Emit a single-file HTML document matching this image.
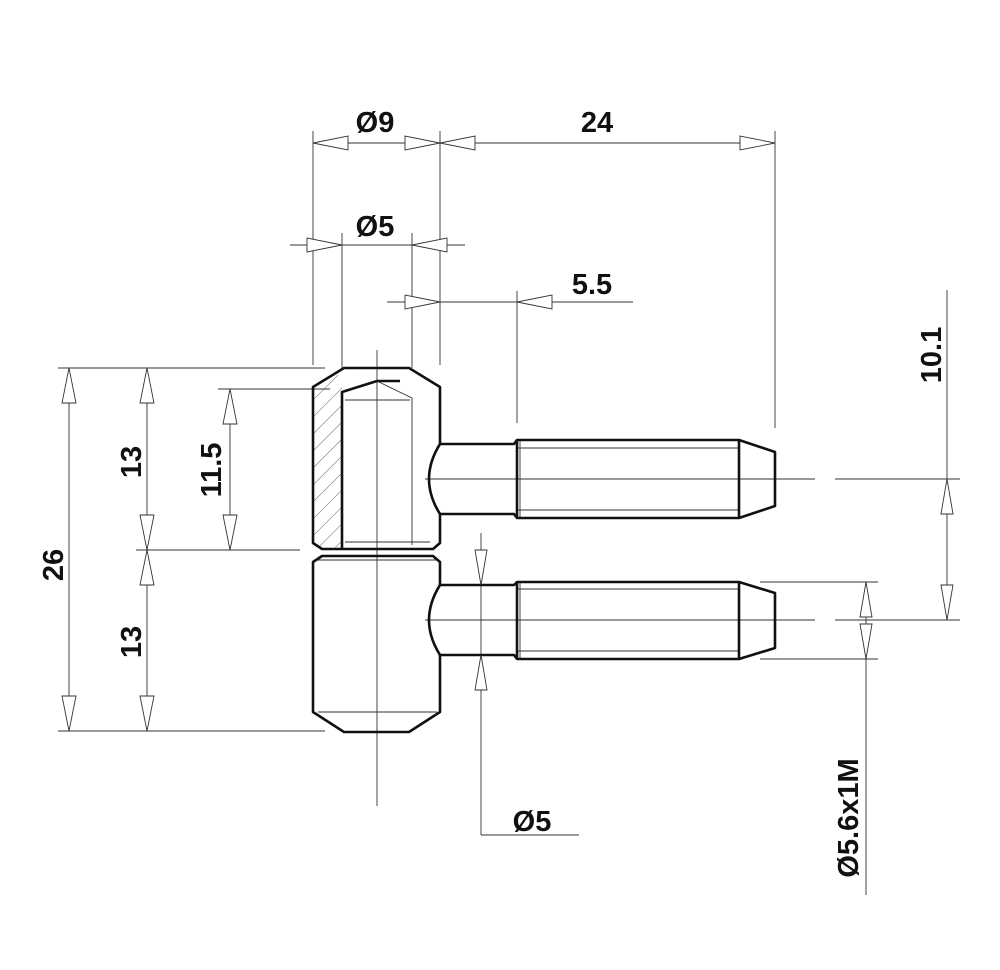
<!DOCTYPE html>
<html><head><meta charset="utf-8"><style>
html,body{margin:0;padding:0;background:#fff;}
svg{display:block;}
text{font-family:"Liberation Sans",sans-serif;font-weight:bold;font-size:29px;fill:#111;}
</style></head><body>
<svg width="1000" height="970" viewBox="0 0 1000 970" xmlns="http://www.w3.org/2000/svg">
<defs>
<pattern id="h" width="12" height="12" patternUnits="userSpaceOnUse" patternTransform="rotate(-45)">
<line x1="0" y1="0" x2="0" y2="12" stroke="#444" stroke-width="0.8" transform="rotate(90 6 6)"/>
</pattern>
</defs>
<g stroke="#333" stroke-width="0.9" fill="none">
<line x1="377" y1="350" x2="377" y2="806"/>
<line x1="425" y1="479" x2="815" y2="479"/><line x1="835" y1="479" x2="960" y2="479"/>
<line x1="425" y1="620" x2="815" y2="620"/><line x1="835" y1="620" x2="960" y2="620"/>
<line x1="313" y1="131" x2="313" y2="365"/>
<line x1="440" y1="131" x2="440" y2="365"/>
<line x1="775" y1="131" x2="775" y2="428"/>
<line x1="313" y1="143" x2="775" y2="143"/>
<line x1="290" y1="245" x2="465" y2="245"/>
<line x1="342" y1="233" x2="342" y2="368"/>
<line x1="412" y1="233" x2="412" y2="368"/>
<line x1="387" y1="302" x2="633" y2="302"/>
<line x1="517" y1="291" x2="517" y2="423"/>
<line x1="58" y1="368" x2="325" y2="368"/>
<line x1="58" y1="731" x2="325" y2="731"/>
<line x1="136" y1="550" x2="300" y2="550"/>
<line x1="218" y1="389" x2="330" y2="389"/>
<line x1="69" y1="368" x2="69" y2="731"/>
<line x1="147" y1="368" x2="147" y2="731"/>
<line x1="230" y1="389" x2="230" y2="550"/>
<line x1="947" y1="290" x2="947" y2="620"/>
<line x1="760" y1="582" x2="878" y2="582"/>
<line x1="760" y1="659" x2="878" y2="659"/>
<line x1="866" y1="582" x2="866" y2="895"/>
<line x1="481" y1="533" x2="481" y2="835"/>
<line x1="481" y1="835" x2="579" y2="835"/>
<g fill="#fff">
<polygon points="313,143 348,136 348,150"/>
<polygon points="440,143 405,136 405,150"/>
<polygon points="440,143 475,136 475,150"/>
<polygon points="775,143 740,136 740,150"/>
<polygon points="342,245 307,238 307,252"/>
<polygon points="412,245 447,238 447,252"/>
<polygon points="440,302 405,295 405,309"/>
<polygon points="517,302 552,295 552,309"/>
<polygon points="69,368 62,403 76,403"/>
<polygon points="69,731 62,696 76,696"/>
<polygon points="147,368 140,403 154,403"/>
<polygon points="147,550 140,515 154,515"/>
<polygon points="147,550 140,585 154,585"/>
<polygon points="147,731 140,696 154,696"/>
<polygon points="230,389 223,424 237,424"/>
<polygon points="230,550 223,515 237,515"/>
<polygon points="947,479 941,514 953,514"/>
<polygon points="947,620 941,585 953,585"/>
<polygon points="866,582 860,617 872,617"/>
<polygon points="866,659 860,624 872,624"/>
<polygon points="481,585 475,550 487,550"/>
<polygon points="481,655 475,690 487,690"/>
</g>
</g>
<polygon points="313,387 327,375 342,375 342,549 320,549 313,543" fill="url(#h)"/>
<g stroke="#333" stroke-width="0.9" fill="none">
<line x1="345" y1="400" x2="410" y2="400"/>
<line x1="377" y1="381" x2="412" y2="398"/>
<line x1="412" y1="398" x2="412" y2="545"/>
<line x1="345" y1="542" x2="430" y2="542"/>
<line x1="318" y1="712" x2="437" y2="712"/>
<line x1="318" y1="560" x2="437" y2="560"/>
<line x1="517" y1="448" x2="739" y2="448"/><line x1="517" y1="510" x2="739" y2="510"/>
<line x1="517" y1="589" x2="739" y2="589"/><line x1="517" y1="651" x2="739" y2="651"/>
<line x1="520" y1="440" x2="520" y2="518"/><line x1="520" y1="582" x2="520" y2="659"/>
</g>
<g stroke="#111" stroke-width="2.6" fill="none" stroke-linejoin="round">
<path d="M440,444 L440,387 L409,368 L344,368 L313,387 L313,543 L322,549 L433,549 L440,543 L440,514"/>
<path d="M440,444 Q418,479 440,514"/>
<path d="M342,549 L342,392 L377,381 L400,381"/>
<path d="M440,585 L440,562 L433,556 L322,556 L313,562 L313,712 L344,732 L409,732 L440,712 L440,655"/>
<path d="M440,585 Q418,620 440,655"/>
<path d="M440,444 L514,444 L517,440 L739,440 L775,452 L775,506 L739,518 L517,518 L514,514 L440,514"/>
<line x1="739" y1="440" x2="739" y2="518"/>
<line x1="517" y1="440" x2="517" y2="518"/>
<path d="M440,585 L514,585 L517,582 L739,582 L775,593 L775,648 L739,659 L517,659 L514,655 L440,655"/>
<line x1="739" y1="582" x2="739" y2="659"/>
<line x1="517" y1="582" x2="517" y2="659"/>
</g>
<text x="375" y="132" text-anchor="middle">Ø9</text>
<text x="597" y="132" text-anchor="middle">24</text>
<text x="375" y="236" text-anchor="middle">Ø5</text>
<text x="592" y="294" text-anchor="middle">5.5</text>
<text x="532" y="831" text-anchor="middle">Ø5</text>
<text transform="translate(941,355) rotate(-90)" text-anchor="middle">10.1</text>
<text transform="translate(858,818) rotate(-90)" text-anchor="middle">Ø5.6x1M</text>
<text transform="translate(63,565) rotate(-90)" text-anchor="middle">26</text>
<text transform="translate(141,462) rotate(-90)" text-anchor="middle">13</text>
<text transform="translate(141,642) rotate(-90)" text-anchor="middle">13</text>
<text transform="translate(221,470) rotate(-90)" text-anchor="middle">11.5</text>
</svg>
</body></html>
